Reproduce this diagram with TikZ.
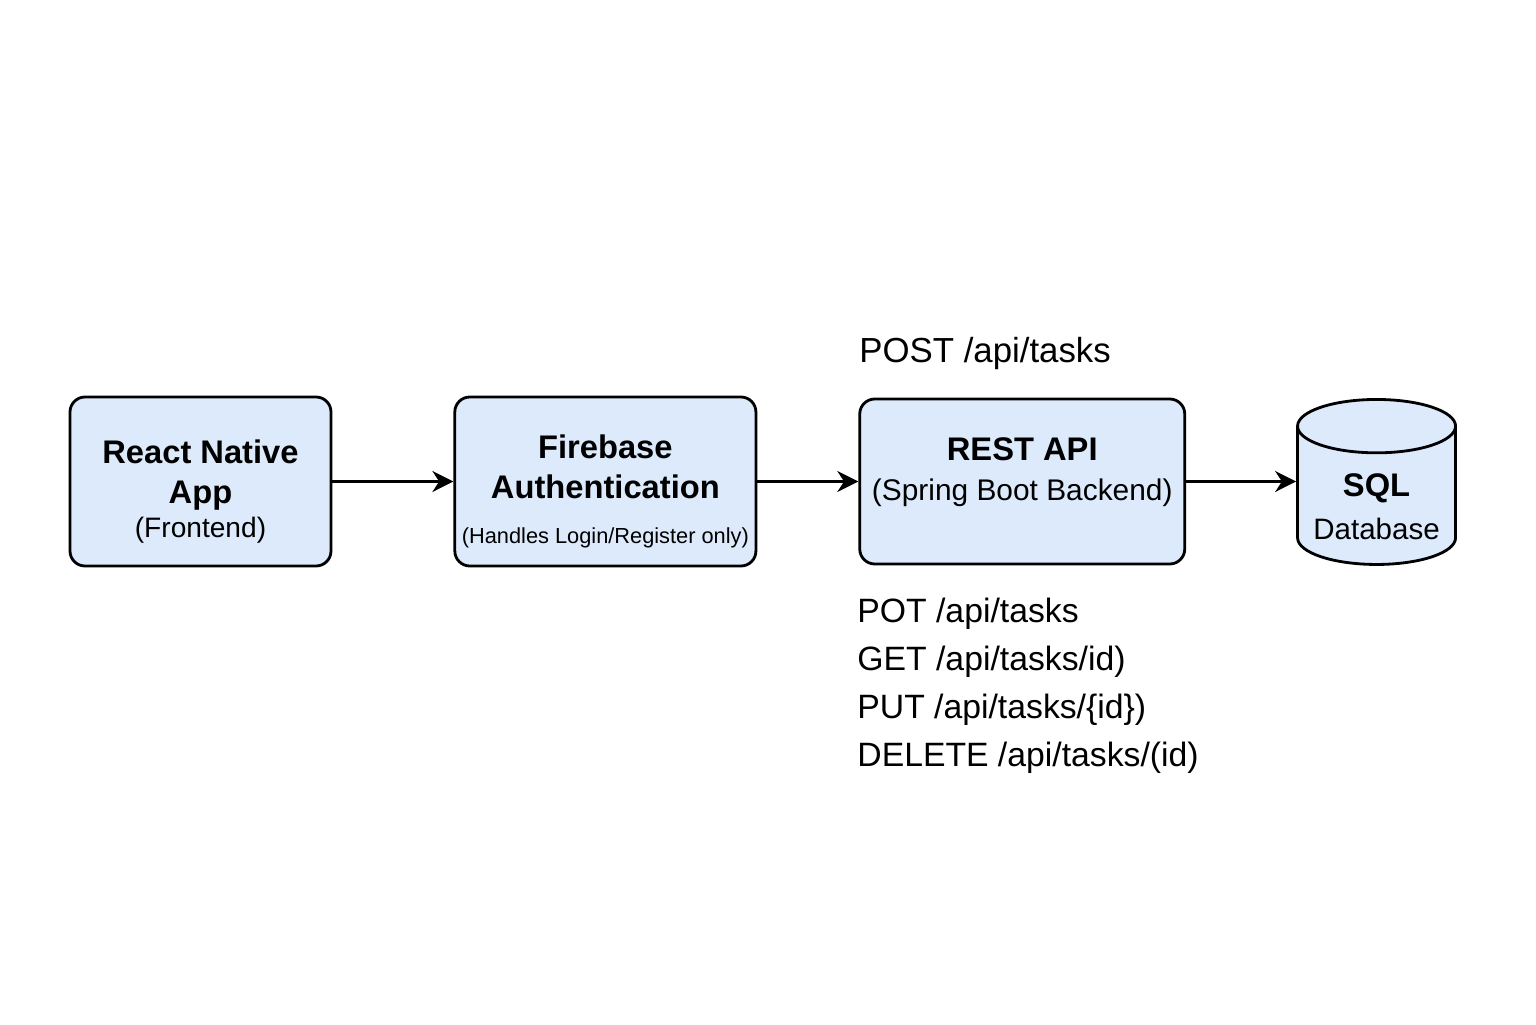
\documentclass[tikz,border=0pt]{standalone}
\usepackage{fontspec}
\setmainfont{Liberation Sans}
\usetikzlibrary{arrows.meta, positioning, shapes.geometric}

\definecolor{boxblue}{HTML}{DCEAFB}

\tikzset{
  block/.style={draw, thick, rounded corners=0.15cm, fill=boxblue, align=center,
    inner sep=2pt, font={\fontsize{9.3pt}{11.3pt}\selectfont}},
  store/.style={draw, thick, fill=boxblue, cylinder, shape border rotate=90, aspect=0.38,
    align=center, inner sep=2pt},
  route/.style={inner sep=0pt, align=left, font={\fontsize{9.6pt}{13.6pt}\selectfont}}
}

\begin{document}
\begin{tikzpicture}[->,>={Stealth[length=6pt,width=6pt]},semithick]
            \useasboundingbox (0,0) rectangle (15.36,10.24);

            \node[block, minimum width=2.61cm, minimum height=1.69cm] (app) at (2.005,5.425)
                {\rule{0pt}{12.5pt}\textbf{React Native}\\\textbf{App}\\[-1.5pt]{\fontsize{8pt}{11.3pt}\selectfont (Frontend)}};
            \node[block, minimum width=2.99cm, minimum height=1.69cm] (auth) [right=1.21cm of app]
                {\rule{0pt}{12.5pt}\textbf{Firebase}\\\textbf{Authentication}\\[1.5pt]{\fontsize{6.2pt}{11.3pt}\selectfont (Handles Login/Register only)}};
            \node[block, minimum width=3.25cm, minimum height=1.65cm] (rest) [right=1.01cm of auth]
                {\textbf{REST API}\\{\fontsize{8.5pt}{11.3pt}\selectfont (Spring Boot Backend)\rule[-7pt]{0pt}{7pt}}};
            \node[store, minimum width=1.58cm, minimum height=1.65cm] (db) [right=1.10cm of rest, yshift=-0.2cm]
                {{\fontsize{9.3pt}{10.5pt}\selectfont\rule{0pt}{9.5pt}\textbf{SQL}}\\{\fontsize{8.4pt}{10.5pt}\selectfont Database}};

            % request labels
            \node[route, anchor=south west, font={\fontsize{9.9pt}{12pt}\selectfont}] (post) at ([yshift=0.27cm]rest.north west) {POST /api/tasks};
            \node[route, anchor=north west] (routes) at ([xshift=-0.02cm,yshift=-0.32cm]rest.south west)
                {POT /api/tasks\\GET /api/tasks/id)\\PUT /api/tasks/\{id\})\\DELETE /api/tasks/(id)};

            \path (app) edge (auth)
            (auth) edge (rest)
            (rest.east) edge (rest.east -| db.west);
\end{tikzpicture}
\end{document}
